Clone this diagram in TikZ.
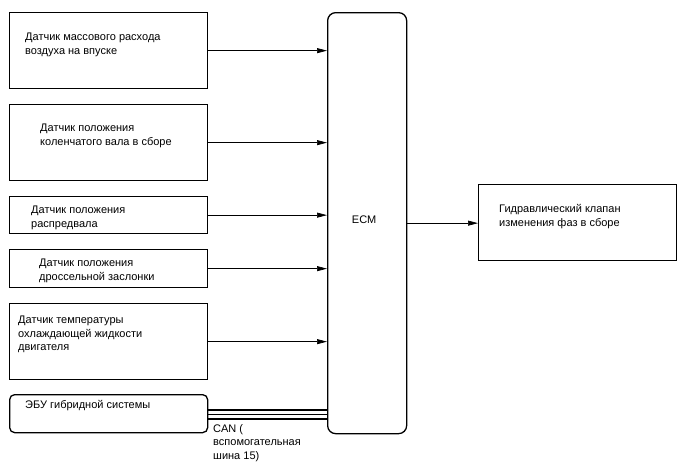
\documentclass[tikz,border=0pt]{standalone}
\usepackage{fontspec}
\setmainfont{Liberation Sans}
\usetikzlibrary{arrows.meta}
\begin{document}
\begin{tikzpicture}[x=1pt, y=-1pt, >={Triangle[length=10pt,width=5pt]},
  box/.style={draw, line width=1.3pt, anchor=north west, inner sep=0pt},
  txt/.style={anchor=north west, inner sep=0pt, align=left, font=\fontsize{11}{13.8}\selectfont},
  sig/.style={->, line width=0.7pt}]
  \useasboundingbox (0,0) rectangle (688,463);

  % Sensor boxes
  \node[box, minimum width=198pt, minimum height=76pt] (maf) at (9,12) {};
  \node[box, minimum width=198pt, minimum height=76pt] (ckp) at (9,104) {};
  \node[box, minimum width=198pt, minimum height=37pt] (cmp) at (9,196) {};
  \node[box, minimum width=198pt, minimum height=38pt] (tps) at (9,249) {};
  \node[box, minimum width=198pt, minimum height=76pt] (ect) at (9,303) {};
  \node[box, rounded corners=5pt, minimum width=198pt, minimum height=38pt] (hv) at (9,394) {};

  % ECM and valve
  \node[box, rounded corners=8pt, minimum width=79pt, minimum height=421pt] (ecm) at (327,12) {};
  \node[box, minimum width=198pt, minimum height=76pt] (ocv) at (478,184) {};

  % Texts
  \node[txt] (maft) at (25,32.5) {Датчик массового расхода\\воздуха на впуске};
  \node[txt] (ckpt) at (40,123.5) {Датчик положения\\коленчатого вала в сборе};
  \node[txt] (cmpt) at (31,205.5) {Датчик положения\\распредвала};
  \node[txt] (tpst) at (39,258.5) {Датчик положения\\дроссельной заслонки};
  \node[txt] (ectt) at (18,315.5) {Датчик температуры\\охлаждающей жидкости\\двигателя};
  \node[txt] (hvt) at (25,400) {ЭБУ гибридной системы};
  \node[txt] (ocvt) at (499,204.5) {Гидравлический клапан\\изменения фаз в сборе};
  \node[font=\fontsize{11}{13.8}\selectfont, xshift=-3pt, yshift=3pt] (ecmt) at (ecm.center) {ECM};

  % Signals to ECM
  \foreach \s in {maf,ckp,cmp,tps,ect}
    \draw[sig] (\s.east) -- (\s.east -| ecm.west);
  \draw[sig] (ecm.east) -- (ecm.east -| ocv.west);

  % CAN bus
  \foreach \d in {-4.5,0,4.5}
    \draw[line width=1.3pt] ([yshift=-\d pt-0.7pt]hv.east) -- ([yshift=-\d pt-0.7pt]hv.east -| ecm.west);
  \node[txt] (cant) at (213,424) {CAN (\\вспомогательная\\шина 15)};
\end{tikzpicture}
\end{document}
